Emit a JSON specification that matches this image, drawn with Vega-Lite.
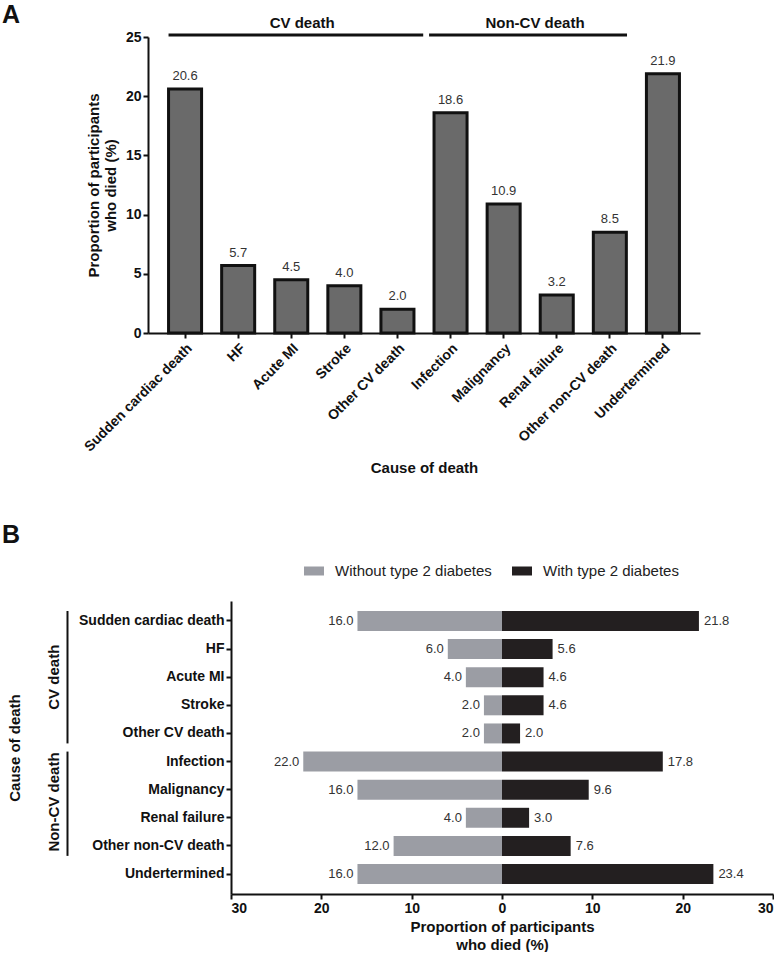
{
  "$schema": "https://vega.github.io/schema/vega-lite/v6.json",
  "background": "white",
  "padding": {"left": 2, "top": 2, "right": 0, "bottom": 0},
  "spacing": 47,
  "resolve": {"scale": {"color": "independent"}, "legend": {"color": "independent"}},
  "config": {
    "view": {"stroke": null},
    "font": "Liberation Sans",
    "axis": {
      "grid": false,
      "domainColor": "#111111",
      "domainWidth": 2,
      "tickColor": "#111111",
      "tickWidth": 2,
      "tickSize": 5,
      "labelColor": "#111111",
      "titleColor": "#111111",
      "labelFont": "Liberation Sans",
      "titleFont": "Liberation Sans",
      "labelFontWeight": "bold",
      "titleFontWeight": "bold",
      "labelFontSize": 14,
      "titleFontSize": 15,
      "labelPadding": 2
    },
    "title": {"fontSize": 25, "fontWeight": "bold", "anchor": "start", "frame": "group", "color": "#111111", "font": "Liberation Sans"}
  },
  "vconcat": [
    {
      "title": {"text": "A", "dx": -146, "offset": -12},
      "width": 552,
      "height": 296,
      "layer": [
        {
          "data": {"values": [
            {"cause": "Sudden cardiac death", "pct": 20.6},
            {"cause": "HF", "pct": 5.7},
            {"cause": "Acute MI", "pct": 4.5},
            {"cause": "Stroke", "pct": 4.0},
            {"cause": "Other CV death", "pct": 2.0},
            {"cause": "Infection", "pct": 18.6},
            {"cause": "Malignancy", "pct": 10.9},
            {"cause": "Renal failure", "pct": 3.2},
            {"cause": "Other non-CV death", "pct": 8.5},
            {"cause": "Undertermined", "pct": 21.9}
          ]},
          "layer": [
            {
              "mark": {"type": "bar", "fill": "#6a6a6a", "stroke": "#111111", "strokeWidth": 3},
              "encoding": {
                "x": {
                  "field": "cause", "type": "nominal", "sort": null,
                  "scale": {"domain": ["Sudden cardiac death", "HF", "Acute MI", "Stroke", "Other CV death", "Infection", "Malignancy", "Renal failure", "Other non-CV death", "Undertermined"], "paddingInner": 0.378, "paddingOuter": 0.387},
                  "axis": {"labelAngle": -45, "labelAlign": "right", "labelBaseline": "top", "labelPadding": 3, "title": "Cause of death", "titlePadding": 7}
                },
                "y": {
                  "field": "pct", "type": "quantitative",
                  "scale": {"domain": [0, 25], "nice": false},
                  "axis": {"values": [0, 5, 10, 15, 20, 25], "title": ["Proportion of participants", "who died (%)"], "titlePadding": 7, "titleLineHeight": 17}
                }
              }
            },
            {
              "mark": {"type": "text", "baseline": "bottom", "dy": -6, "fontSize": 13, "color": "#333333"},
              "encoding": {
                "x": {"field": "cause", "type": "nominal", "sort": null},
                "y": {"field": "pct", "type": "quantitative"},
                "text": {"field": "pct", "type": "quantitative", "format": ".1f"}
              }
            }
          ]
        },
        {
          "data": {"values": [{"group": "CV death", "from": "Sudden cardiac death", "to": "Other CV death", "level": 25.17}]},
          "mark": {"type": "rule", "stroke": "#111111", "strokeWidth": 3},
          "encoding": {
            "x": {"field": "from", "type": "nominal", "bandPosition": 0},
            "x2": {"field": "to", "bandPosition": 1.28},
            "y": {"field": "level", "type": "quantitative"}
          }
        },
        {
          "data": {"values": [{"group": "Non-CV death", "from": "Infection", "to": "Other non-CV death", "level": 25.17}]},
          "mark": {"type": "rule", "stroke": "#111111", "strokeWidth": 3},
          "encoding": {
            "x": {"field": "from", "type": "nominal", "bandPosition": -0.15},
            "x2": {"field": "to", "bandPosition": 1.02},
            "y": {"field": "level", "type": "quantitative"}
          }
        },
        {
          "data": {"values": [{"group": "CV death", "anchor": "Acute MI", "level": 26.2}]},
          "mark": {"type": "text", "fontSize": 15, "fontWeight": "bold", "color": "#111111", "baseline": "middle"},
          "encoding": {
            "x": {"field": "anchor", "type": "nominal", "bandPosition": 0.83},
            "y": {"field": "level", "type": "quantitative"},
            "text": {"field": "group"}
          }
        },
        {
          "data": {"values": [{"group": "Non-CV death", "anchor": "Malignancy", "level": 26.2}]},
          "mark": {"type": "text", "fontSize": 15, "fontWeight": "bold", "color": "#111111", "baseline": "middle"},
          "encoding": {
            "x": {"field": "anchor", "type": "nominal", "bandPosition": 1.45},
            "y": {"field": "level", "type": "quantitative"},
            "text": {"field": "group"}
          }
        }
      ]
    },
    {
      "title": {"text": "B", "dx": -146, "offset": 13},
      "width": 625,
      "height": 293,
      "layer": [
        {
          "data": {"values": [
            {"cause": "Sudden cardiac death", "group": "Without type 2 diabetes", "pct": -16.0},
            {"cause": "Sudden cardiac death", "group": "With type 2 diabetes", "pct": 21.8},
            {"cause": "HF", "group": "Without type 2 diabetes", "pct": -6.0},
            {"cause": "HF", "group": "With type 2 diabetes", "pct": 5.6},
            {"cause": "Acute MI", "group": "Without type 2 diabetes", "pct": -4.0},
            {"cause": "Acute MI", "group": "With type 2 diabetes", "pct": 4.6},
            {"cause": "Stroke", "group": "Without type 2 diabetes", "pct": -2.0},
            {"cause": "Stroke", "group": "With type 2 diabetes", "pct": 4.6},
            {"cause": "Other CV death", "group": "Without type 2 diabetes", "pct": -2.0},
            {"cause": "Other CV death", "group": "With type 2 diabetes", "pct": 2.0},
            {"cause": "Infection", "group": "Without type 2 diabetes", "pct": -22.0},
            {"cause": "Infection", "group": "With type 2 diabetes", "pct": 17.8},
            {"cause": "Malignancy", "group": "Without type 2 diabetes", "pct": -16.0},
            {"cause": "Malignancy", "group": "With type 2 diabetes", "pct": 9.6},
            {"cause": "Renal failure", "group": "Without type 2 diabetes", "pct": -4.0},
            {"cause": "Renal failure", "group": "With type 2 diabetes", "pct": 3.0},
            {"cause": "Other non-CV death", "group": "Without type 2 diabetes", "pct": -12.0},
            {"cause": "Other non-CV death", "group": "With type 2 diabetes", "pct": 7.6},
            {"cause": "Undertermined", "group": "Without type 2 diabetes", "pct": -16.0},
            {"cause": "Undertermined", "group": "With type 2 diabetes", "pct": 23.4}
          ]},
          "layer": [
            {
              "mark": {"type": "bar"},
              "encoding": {
                "x": {
                  "field": "pct", "type": "quantitative",
                  "scale": {"domain": [-30, 30], "nice": false, "range": [83, 625]},
                  "axis": {"values": [-30, -20, -10, 0, 10, 20, 30], "labelExpr": "abs(datum.value) + ''", "title": ["Proportion of participants", "who died (%)"], "titlePadding": 4, "titleLineHeight": 18}
                },
                "y": {
                  "field": "cause", "type": "nominal", "sort": null,
                  "scale": {"domain": ["Sudden cardiac death", "HF", "Acute MI", "Stroke", "Other CV death", "Infection", "Malignancy", "Renal failure", "Other non-CV death", "Undertermined"], "paddingInner": 0.29, "paddingOuter": 0.356},
                  "axis": {"title": "Cause of death", "titlePadding": 56, "offset": -83}
                },
                "color": {
                  "field": "group", "type": "nominal",
                  "scale": {"domain": ["Without type 2 diabetes", "With type 2 diabetes"], "range": ["#9b9da4", "#231f20"]},
                  "legend": {
                    "title": null, "orient": "none", "direction": "horizontal", "legendX": 156, "legendY": -40, "padding": 0,
                    "symbolType": "M-1,-0.45L1,-0.45L1,0.45L-1,0.45Z", "symbolSize": 400, "symbolStrokeWidth": 0,
                    "labelFontSize": 15, "labelFont": "Liberation Sans", "labelColor": "#222222", "labelOffset": 11, "columnPadding": 20
                  }
                }
              }
            },
            {
              "transform": [{"filter": "datum.pct < 0"}],
              "mark": {"type": "text", "align": "right", "baseline": "middle", "dx": -4, "fontSize": 13, "color": "#333333", "text": {"expr": "format(abs(datum.pct), '.1f')"}},
              "encoding": {
                "x": {"field": "pct", "type": "quantitative"},
                "y": {"field": "cause", "type": "nominal", "sort": null}
              }
            },
            {
              "transform": [{"filter": "datum.pct > 0"}],
              "mark": {"type": "text", "align": "left", "baseline": "middle", "dx": 5, "fontSize": 13, "color": "#333333", "text": {"expr": "format(abs(datum.pct), '.1f')"}},
              "encoding": {
                "x": {"field": "pct", "type": "quantitative"},
                "y": {"field": "cause", "type": "nominal", "sort": null}
              }
            }
          ]
        },
        {
          "mark": {"type": "rule", "stroke": "#111111", "strokeWidth": 2},
          "encoding": {"x": {"datum": 0, "type": "quantitative"}}
        },
        {
          "data": {"values": [
            {"group": "CV death", "from": "Sudden cardiac death", "to": "Other CV death", "pos": -48.1},
            {"group": "Non-CV death", "from": "Infection", "to": "Other non-CV death", "pos": -48.1}
          ]},
          "mark": {"type": "rule", "stroke": "#111111", "strokeWidth": 2},
          "encoding": {
            "x": {"field": "pos", "type": "quantitative"},
            "y": {"field": "from", "type": "nominal", "bandPosition": 0},
            "y2": {"field": "to", "bandPosition": 1}
          }
        },
        {
          "data": {"values": [{"group": "CV death", "anchor": "Acute MI", "pos": -49.6}]},
          "mark": {"type": "text", "angle": 270, "align": "center", "baseline": "middle", "fontSize": 15, "fontWeight": "bold", "color": "#111111"},
          "encoding": {
            "x": {"field": "pos", "type": "quantitative"},
            "y": {"field": "anchor", "type": "nominal", "bandPosition": 0.5},
            "text": {"field": "group"}
          }
        },
        {
          "data": {"values": [{"group": "Non-CV death", "anchor": "Malignancy", "pos": -49.6}]},
          "mark": {"type": "text", "angle": 270, "align": "center", "baseline": "middle", "fontSize": 15, "fontWeight": "bold", "color": "#111111"},
          "encoding": {
            "x": {"field": "pos", "type": "quantitative"},
            "y": {"field": "anchor", "type": "nominal", "bandPosition": 1.12},
            "text": {"field": "group"}
          }
        }
      ]
    }
  ]
}
